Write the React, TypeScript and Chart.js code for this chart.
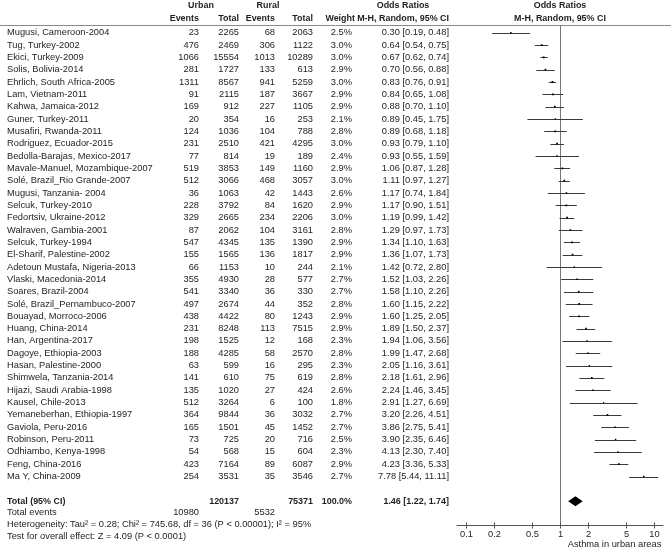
import React, { useEffect, useRef } from 'react';
import { Chart, registerables } from 'chart.js';

Chart.register(...registerables);

const studies = [
  'Mugusi, Cameroon-2004', 'Tug, Turkey-2002', 'Ekici, Turkey-2009', 'Solis, Bolivia-2014',
  'Ehrlich, South Africa-2005', 'Lam, Vietnam-2011', 'Kahwa, Jamaica-2012', 'Guner, Turkey-2011',
  'Musafiri, Rwanda-2011', 'Rodriguez, Ecuador-2015', 'Bedolla-Barajas, Mexico-2017',
  'Mavale-Manuel, Mozambique-2007', 'Solé, Brazil_Rio Grande-2007', 'Mugusi, Tanzania- 2004',
  'Selcuk, Turkey-2010', 'Fedortsiv, Ukraine-2012', 'Walraven, Gambia-2001', 'Selcuk, Turkey-1994',
  'El-Sharif, Palestine-2002', 'Adetoun Mustafa, Nigeria-2013', 'Vlaski, Macedonia-2014',
  'Soares, Brazil-2004', 'Solé, Brazil_Pernambuco-2007', 'Bouayad, Morroco-2006', 'Huang, China-2014',
  'Han, Argentina-2017', 'Dagoye, Ethiopia-2003', 'Hasan, Palestine-2000', 'Shimwela, Tanzania-2014',
  'Hijazi, Saudi Arabia-1998', 'Kausel, Chile-2013', 'Yemaneberhan, Ethiopia-1997', 'Gaviola, Peru-2016',
  'Robinson, Peru-2011', 'Odhiambo, Kenya-1998', 'Feng, China-2016', 'Ma Y, China-2009',
];
const urbanEvents = [23, 476, 1066, 281, 1311, 91, 169, 20, 124, 231, 77, 519, 512, 36, 228, 329, 87, 547, 155, 66, 355, 541, 497, 438, 231, 198, 188, 63, 141, 135, 512, 364, 165, 73, 54, 423, 254];
const urbanTotal = [2265, 2469, 15554, 1727, 8567, 2115, 912, 354, 1036, 2510, 814, 3853, 3066, 1063, 3792, 2665, 2062, 4345, 1565, 1153, 4930, 3340, 2674, 4422, 8248, 1525, 4285, 599, 610, 1020, 3264, 9844, 1501, 725, 568, 7164, 3531];
const ruralEvents = [68, 306, 1013, 133, 941, 187, 227, 16, 104, 421, 19, 149, 468, 42, 84, 234, 104, 135, 136, 10, 28, 36, 44, 80, 113, 12, 58, 16, 75, 27, 6, 36, 45, 20, 15, 89, 35];
const ruralTotal = [2063, 1122, 10289, 613, 5259, 3667, 1105, 253, 788, 4295, 189, 1160, 3057, 1443, 1620, 2206, 3161, 1390, 1817, 244, 577, 330, 352, 1243, 7515, 168, 2570, 295, 619, 424, 100, 3032, 1452, 716, 604, 6087, 3546];
const weights = [2.5, 3.0, 3.0, 2.9, 3.0, 2.9, 2.9, 2.1, 2.8, 3.0, 2.4, 2.9, 3.0, 2.6, 2.9, 3.0, 2.8, 2.9, 2.9, 2.1, 2.7, 2.7, 2.8, 2.9, 2.9, 2.3, 2.8, 2.3, 2.8, 2.6, 1.8, 2.7, 2.7, 2.5, 2.3, 2.9, 2.7];
const oddsRatios = [0.30, 0.64, 0.67, 0.70, 0.83, 0.84, 0.88, 0.89, 0.89, 0.93, 0.93, 1.06, 1.11, 1.17, 1.17, 1.19, 1.29, 1.34, 1.36, 1.42, 1.52, 1.58, 1.60, 1.60, 1.89, 1.94, 1.99, 2.05, 2.18, 2.24, 2.91, 3.20, 3.86, 3.90, 4.13, 4.23, 7.78];
const ciLower = [0.19, 0.54, 0.62, 0.56, 0.76, 0.65, 0.70, 0.45, 0.68, 0.79, 0.55, 0.87, 0.97, 0.74, 0.90, 0.99, 0.97, 1.10, 1.07, 0.72, 1.03, 1.10, 1.15, 1.25, 1.50, 1.06, 1.47, 1.16, 1.61, 1.46, 1.27, 2.26, 2.75, 2.35, 2.30, 3.36, 5.44];
const ciUpper = [0.48, 0.75, 0.74, 0.88, 0.91, 1.08, 1.10, 1.75, 1.18, 1.10, 1.59, 1.28, 1.27, 1.84, 1.51, 1.42, 1.73, 1.63, 1.73, 2.80, 2.26, 2.26, 2.22, 2.05, 2.37, 3.56, 2.68, 3.61, 2.96, 3.45, 6.69, 4.51, 5.41, 6.46, 7.40, 5.33, 11.11];

const totalUrbanN = 120137;
const totalRuralN = 75371;
const totalWeight = 100.0;
const totalOR = 1.46;
const totalLower = 1.22;
const totalUpper = 1.74;
const totalUrbanEvents = 10980;
const totalRuralEvents = 5532;

const xTickValues = [0.1, 0.2, 0.5, 1, 2, 5, 10];
const xTickLabels = ['0.1', '0.2', '0.5', '1', '2', '5', '10'];
const xMin = 0.0796;
const xMax = 12.56;

const groupHeaders = ['Urban', 'Rural'];
const columnHeaders = ['Events', 'Total', 'Events', 'Total', 'Weight'];
const orHeader1 = 'Odds Ratios';
const orHeader2 = 'M-H, Random, 95% CI';
const totalLabel = 'Total (95% CI)';
const totalEventsLabel = 'Total events';
const heterogeneityText = 'Heterogeneity: Tau² = 0.28; Chi² = 745.68, df = 36 (P < 0.00001); I² = 95%';
const overallEffectText = 'Test for overall effect: Z = 4.09 (P < 0.0001)';
const favoursLabel = 'Asthma in urban areas';

const FONT = '"Liberation Sans", Arial, sans-serif';
const FS = 9.3;
const FSB = 8.95;
const TEXT = '#1e1e1e';

// column right edges (layout)
const COLX = { name: 7, ue: 199, ut: 239, re: 275, rt: 313, w: 352, wh: 355, or: 449 };

const fmt2 = (v: number) => v.toFixed(2);
const ciText = (o: number, l: number, u: number) => `${fmt2(o)} [${fmt2(l)}, ${fmt2(u)}]`;

const forestPlugin = {
  id: 'forest',
  beforeDatasetsDraw(chart: any) {
    const { ctx, chartArea, scales } = chart;
    const xs = scales.x;
    const ys = scales.y;
    ctx.save();
    ctx.strokeStyle = '#8a8a8a';
    ctx.lineWidth = 1;
    ctx.beginPath();
    ctx.moveTo(0, Math.round(chartArea.top) + 0.5);
    ctx.lineTo(chart.width, Math.round(chartArea.top) + 0.5);
    ctx.stroke();
    const x1 = Math.round(xs.getPixelForValue(1)) + 0.5;
    ctx.strokeStyle = '#777';
    ctx.beginPath();
    ctx.moveTo(x1, chartArea.top);
    ctx.lineTo(x1, chartArea.bottom);
    ctx.stroke();
    ctx.strokeStyle = '#3a3a3a';
    for (let i = 0; i < studies.length; i++) {
      const y = Math.round(ys.getPixelForValue(i)) + 0.5;
      ctx.beginPath();
      ctx.moveTo(xs.getPixelForValue(ciLower[i]), y);
      ctx.lineTo(xs.getPixelForValue(ciUpper[i]), y);
      ctx.stroke();
    }
    const ay = Math.round(chartArea.bottom) + 0.5;
    ctx.strokeStyle = '#555';
    ctx.beginPath();
    ctx.moveTo(chartArea.left, ay);
    ctx.lineTo(chartArea.right, ay);
    ctx.stroke();
    ctx.font = `${FS}px ${FONT}`;
    ctx.fillStyle = TEXT;
    ctx.textAlign = 'center';
    ctx.textBaseline = 'middle';
    xTickValues.forEach((v, k) => {
      const tx = Math.round(xs.getPixelForValue(v)) + 0.5;
      ctx.beginPath();
      ctx.moveTo(tx, ay - 3);
      ctx.lineTo(tx, ay + 3);
      ctx.stroke();
      ctx.fillText(xTickLabels[k], tx, ay + 8.5);
    });
    ctx.textAlign = 'right';
    ctx.fillText(favoursLabel, chartArea.right - 2, ay + 18.5);
    ctx.restore();
  },
  afterDatasetsDraw(chart: any) {
    const { ctx, scales } = chart;
    const xs = scales.x;
    const ys = scales.y;
    ctx.save();
    const yt = ys.getPixelForValue(38);
    const dh = ys.getPixelForValue(38.4) - yt;
    ctx.fillStyle = '#000';
    ctx.beginPath();
    ctx.moveTo(xs.getPixelForValue(totalLower), yt);
    ctx.lineTo(xs.getPixelForValue(totalOR), yt - dh);
    ctx.lineTo(xs.getPixelForValue(totalUpper), yt);
    ctx.lineTo(xs.getPixelForValue(totalOR), yt + dh);
    ctx.closePath();
    ctx.fill();

    const put = (t: string, x: number, row: number, align: CanvasTextAlign, bold = false) => {
      ctx.font = bold ? `bold ${FSB}px ${FONT}` : `${FS}px ${FONT}`;
      ctx.textAlign = align;
      ctx.fillText(t, x, ys.getPixelForValue(row));
    };
    ctx.fillStyle = TEXT;
    ctx.textBaseline = 'middle';
    put(groupHeaders[0], 201, -2.17, 'center', true);
    put(groupHeaders[1], 268, -2.17, 'center', true);
    put(orHeader1, 403, -2.17, 'center', true);
    put(orHeader1, xs.getPixelForValue(1), -2.17, 'center', true);
    const hx = [COLX.ue, COLX.ut, COLX.re, COLX.rt, COLX.wh];
    columnHeaders.forEach((h, k) => put(h, hx[k], -1.17, 'right', true));
    put(orHeader2, COLX.or, -1.17, 'right', true);
    put(orHeader2, xs.getPixelForValue(1), -1.17, 'center', true);
    for (let i = 0; i < studies.length; i++) {
      put(studies[i], COLX.name, i, 'left');
      put(String(urbanEvents[i]), COLX.ue, i, 'right');
      put(String(urbanTotal[i]), COLX.ut, i, 'right');
      put(String(ruralEvents[i]), COLX.re, i, 'right');
      put(String(ruralTotal[i]), COLX.rt, i, 'right');
      put(weights[i].toFixed(1) + '%', COLX.w, i, 'right');
      put(ciText(oddsRatios[i], ciLower[i], ciUpper[i]), COLX.or, i, 'right');
    }
    put(totalLabel, COLX.name, 38, 'left', true);
    put(String(totalUrbanN), COLX.ut, 38, 'right', true);
    put(String(totalRuralN), COLX.rt, 38, 'right', true);
    put(totalWeight.toFixed(1) + '%', COLX.w, 38, 'right', true);
    put(ciText(totalOR, totalLower, totalUpper), COLX.or, 38, 'right', true);
    put(totalEventsLabel, COLX.name, 38.95, 'left');
    put(String(totalUrbanEvents), COLX.ue, 38.95, 'right');
    put(String(totalRuralEvents), COLX.re, 38.95, 'right');
    put(heterogeneityText, COLX.name, 39.88, 'left');
    put(overallEffectText, COLX.name, 40.85, 'left');
    ctx.restore();
  },
};

export default function App() {
  const ref = useRef<HTMLCanvasElement | null>(null);
  useEffect(() => {
    if (!ref.current) return;
    const chart = new Chart(ref.current, {
      type: 'scatter',
      data: {
        datasets: [
          {
            data: oddsRatios.map((v, i) => ({ x: v, y: i })),
            pointStyle: 'rect',
            pointRadius: weights.map((w) => w * 0.42),
            backgroundColor: '#000',
            borderWidth: 0,
          },
        ],
      },
      options: {
        responsive: false,
        animation: false,
        devicePixelRatio: 1,
        layout: { padding: { left: 456.7, right: 7.7, top: 25, bottom: 25 } },
        plugins: { legend: { display: false }, tooltip: { enabled: false } },
        scales: {
          x: { type: 'logarithmic', min: xMin, max: xMax, display: false },
          y: { type: 'linear', min: -0.624, max: 39.93, reverse: true, display: false },
        },
      },
      plugins: [forestPlugin],
    });
    return () => chart.destroy();
  }, []);
  return (
    <div style={{ position: 'absolute', left: 0, top: 0, width: 671, height: 550, background: '#fff' }}>
      <canvas ref={ref} width={671} height={550} />
    </div>
  );
}
